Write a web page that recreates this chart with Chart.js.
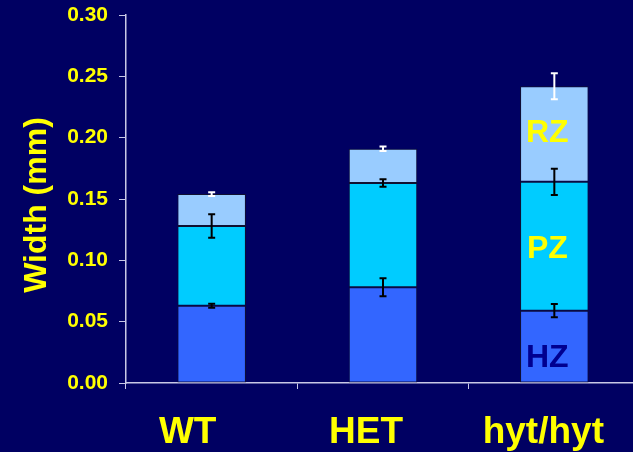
<!DOCTYPE html>
<html>
<head>
<meta charset="utf-8">
<script src="https://cdn.jsdelivr.net/npm/chart.js@4"></script>
<style>
  html, body { margin: 0; padding: 0; background: #000062; overflow: hidden; }
  #wrap { width: 640px; height: 452px; }
</style>
</head>
<body>
<div id="wrap"><canvas id="chart" width="640" height="452"></canvas></div>
<script>
// Growth plate zone widths (mm), stacked HZ -> PZ -> RZ
const categories = ['WT', 'HET', 'hyt/hyt'];
const hzValues = [0.063, 0.078, 0.059];
const pzValues = [0.065, 0.085, 0.105];
const rzValues = [0.026, 0.028, 0.078];
const hzErrors = [0.0016, 0.0073, 0.0055];
const pzErrors = [0.0095, 0.003, 0.0107];
const rzErrors = [0.0015, 0.0018, 0.0106];

// zone names written inside the last bar, at these heights
const zoneNames = ['HZ', 'PZ', 'RZ'];
const zoneNameY = [0.020, 0.109, 0.204];

const YELLOW = '#ffff00';
const AXIS = '#c8c8e6';
const FONT = "Arial, 'Liberation Sans', sans-serif";

const errorSets = [hzErrors, pzErrors, rzErrors];
const errorColors = ['#000000', '#000000', '#ffffff'];

// category names sit a little left of the bar centres
const labelShift = [-24, -17, -11];

const errorBars = {
    id: 'errorBars',
    afterDatasetsDraw(chart) {
        const ctx = chart.ctx;
        const y = chart.scales.y;
        ctx.save();
        chart.data.datasets.forEach((ds, i) => {
            const meta = chart.getDatasetMeta(i);
            meta.data.forEach((bar, j) => {
                const top = y.getValueForPixel(bar.y);
                const err = errorSets[i][j];
                const y1 = y.getPixelForValue(top + err);
                const y2 = y.getPixelForValue(top - err);
                ctx.strokeStyle = errorColors[i];
                ctx.lineWidth = 2;
                ctx.beginPath();
                ctx.moveTo(bar.x, y1);
                ctx.lineTo(bar.x, y2);
                ctx.moveTo(bar.x - 3.5, y1);
                ctx.lineTo(bar.x + 3.5, y1);
                ctx.moveTo(bar.x - 3.5, y2);
                ctx.lineTo(bar.x + 3.5, y2);
                ctx.stroke();
            });
        });
        ctx.restore();
    }
};

const zoneLabels = {
    id: 'zoneLabels',
    afterDatasetsDraw(chart) {
        const ctx = chart.ctx;
        const y = chart.scales.y;
        const bar = chart.getDatasetMeta(0).data[categories.length - 1];
        ctx.save();
        ctx.font = 'bold 32px ' + FONT;
        ctx.textAlign = 'center';
        ctx.textBaseline = 'middle';
        zoneNames.forEach((name, i) => {
            ctx.fillStyle = name === 'HZ' ? '#000090' : YELLOW;
            ctx.fillText(name, bar.x - 7, y.getPixelForValue(zoneNameY[i]));
        });
        ctx.restore();
    }
};

// category names under the axis and the rotated y title
const axisText = {
    id: 'axisText',
    afterDraw(chart) {
        const ctx = chart.ctx;
        const x = chart.scales.x;
        const y = chart.scales.y;
        ctx.save();
        ctx.fillStyle = YELLOW;
        ctx.textAlign = 'center';
        ctx.font = 'bold 37px ' + FONT;
        ctx.textBaseline = 'alphabetic';
        categories.forEach((name, i) => {
            ctx.fillText(name, x.getPixelForValue(i) + labelShift[i], x.bottom - 9);
        });
        ctx.translate(37, (y.top + y.bottom) / 2 + 6);
        ctx.rotate(-Math.PI / 2);
        ctx.font = 'bold 32px ' + FONT;
        ctx.textBaseline = 'middle';
        ctx.fillText('Width (mm)', 0, 0);
        ctx.restore();
    }
};

new Chart(document.getElementById('chart'), {
    type: 'bar',
    data: {
        labels: categories,
        datasets: [
            { label: 'HZ', data: hzValues, backgroundColor: '#3366ff' },
            { label: 'PZ', data: pzValues, backgroundColor: '#00ccff' },
            { label: 'RZ', data: rzValues, backgroundColor: '#99ccff' }
        ]
    },
    options: {
        responsive: false,
        animation: false,
        layout: { padding: { top: 15, right: 0, left: 0, bottom: 0 } },
        datasets: {
            bar: {
                borderColor: '#101030',
                borderWidth: 1,
                borderSkipped: false,
                categoryPercentage: 1,
                barPercentage: 0.4
            }
        },
        plugins: {
            legend: { display: false },
            tooltip: { enabled: false }
        },
        scales: {
            x: {
                stacked: true,
                border: { color: AXIS, width: 1.5 },
                grid: { display: true, offset: true, drawOnChartArea: false, color: AXIS, tickLength: 6 },
                ticks: { display: false },
                afterFit(scale) { scale.height = 69; }
            },
            y: {
                stacked: true,
                min: 0,
                max: 0.3,
                border: { color: AXIS, width: 1.5 },
                grid: { drawOnChartArea: false, color: AXIS, tickLength: 7 },
                ticks: {
                    stepSize: 0.05,
                    color: YELLOW,
                    padding: 11,
                    font: { family: FONT, size: 21, weight: 'bold' },
                    callback: v => v.toFixed(2)
                },
                afterFit(scale) {
                    scale.width = 126;
                    scale.paddingTop = 0;
                    scale.paddingBottom = 0;
                }
            }
        }
    },
    plugins: [errorBars, zoneLabels, axisText]
});
</script>
</body>
</html>
